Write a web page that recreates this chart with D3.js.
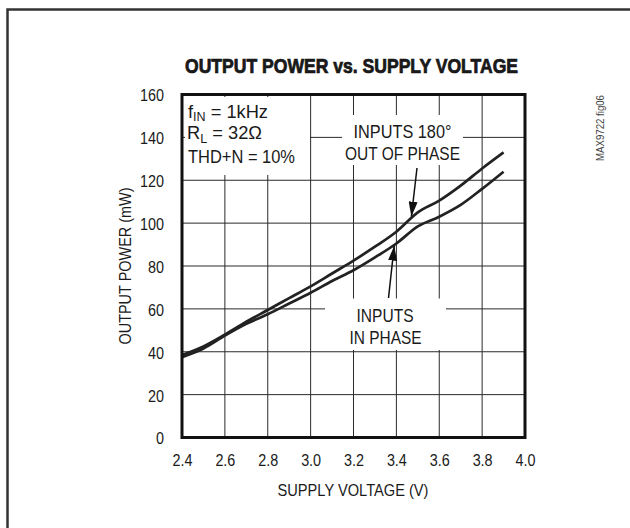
<!DOCTYPE html>
<html>
<head>
<meta charset="utf-8">
<script src="https://cdn.jsdelivr.net/npm/d3@7"></script>
<style>
  html, body { margin: 0; padding: 0; background: #fff; }
  svg { display: block; }
  text { font-family: "Liberation Sans", Arial, sans-serif; fill: #1a1a1a; }
</style>
</head>
<body>
<svg id="chart" width="630" height="528"></svg>
<script>
// Supply voltage (V) at which output power was measured
const voltage = [2.4, 2.5, 2.6, 2.7, 2.8, 2.9, 3.0, 3.1, 3.2, 3.3, 3.4, 3.5, 3.6, 3.7, 3.8, 3.9];
// Output power (mW), inputs driven 180° out of phase
const powerOutOfPhase = [38.5, 42.5, 48, 54, 59.5, 65, 70.5, 76.5, 82.5, 89, 96, 105, 110.5, 117.5, 125.5, 133];
// Output power (mW), inputs driven in phase
const powerInPhase = [37.5, 41.5, 47.5, 53, 57.5, 62.5, 67.5, 73, 78, 84, 90.5, 98.5, 103, 108.5, 116, 124];

const xTicks = [2.4, 2.6, 2.8, 3.0, 3.2, 3.4, 3.6, 3.8, 4.0];
const yTicks = [0, 20, 40, 60, 80, 100, 120, 140, 160];

const svg = d3.select("#chart");

// condensed-looking text: tall glyphs squeezed to a fixed run length
function label(parent, x, y, size, width, content, anchor = "middle") {
  return parent.append("text")
    .attr("x", x).attr("y", y).attr("font-size", size)
    .attr("text-anchor", anchor)
    .attr("textLength", width).attr("lengthAdjust", "spacingAndGlyphs")
    .text(content);
}

// outer frame
svg.append("rect")
  .attr("x", 7.5).attr("y", 9.5).attr("width", 640).attr("height", 540)
  .attr("fill", "none").attr("stroke", "#333").attr("stroke-width", 2.5);

const x = d3.scaleLinear().domain([2.4, 4.0]).range([182, 525]);
const y = d3.scaleLinear().domain([0, 160]).range([437.5, 94.5]);

// grid
const grid = svg.append("g").attr("stroke", "#2a2a2a").attr("stroke-width", 1);
grid.selectAll("line.v").data(xTicks.slice(1, -1)).join("line")
  .attr("x1", d => x(d)).attr("x2", d => x(d))
  .attr("y1", y(160)).attr("y2", y(0));
grid.selectAll("line.h").data(yTicks.slice(1, -1)).join("line")
  .attr("x1", x(2.4)).attr("x2", x(4.0))
  .attr("y1", d => y(d)).attr("y2", d => y(d));

// white panels behind the annotations
const panels = [
  [185, 97, 125, 78],
  [342, 115, 121, 50],
  [325, 298.5, 121, 51.5]
];
svg.append("g").selectAll("rect").data(panels).join("rect")
  .attr("x", d => d[0]).attr("y", d => d[1])
  .attr("width", d => d[2]).attr("height", d => d[3])
  .attr("fill", "#fff");

// curves
const line = d3.line().curve(d3.curveMonotoneX)
  .x((d, i) => x(voltage[i])).y(d => y(d));
[powerOutOfPhase, powerInPhase].forEach(series => {
  svg.append("path").attr("d", line(series))
    .attr("fill", "none").attr("stroke", "#222").attr("stroke-width", 2.7)
    .attr("stroke-linejoin", "round");
});

// plot border
svg.append("rect")
  .attr("x", x(2.4)).attr("y", y(160))
  .attr("width", x(4.0) - x(2.4)).attr("height", y(0) - y(160))
  .attr("fill", "none").attr("stroke", "#111").attr("stroke-width", 3);

// axes tick labels (digits ~8px wide, point ~4px)
const tickWidth = s => s.replace(".", "").length * 8 + (s.includes(".") ? 4 : 0);

const xAxis = d3.axisBottom(x).tickValues(xTicks).tickFormat(d3.format(".1f")).tickSize(0).tickPadding(0);
const gx = svg.append("g").attr("transform", "translate(0,455)").call(xAxis);
gx.select(".domain").remove();
gx.selectAll("text").attr("font-size", 16).attr("dy", "0.71em")
  .style("font-family", "'Liberation Sans', sans-serif").attr("fill", "#1a1a1a")
  .attr("lengthAdjust", "spacingAndGlyphs")
  .attr("textLength", function () { return tickWidth(this.textContent); });

const yAxis = d3.axisLeft(y).tickValues(yTicks).tickSize(0).tickPadding(0);
const gy = svg.append("g").attr("transform", "translate(164,0)").call(yAxis);
gy.select(".domain").remove();
gy.selectAll("text").attr("font-size", 16).attr("dy", "0.40em")
  .style("font-family", "'Liberation Sans', sans-serif").attr("fill", "#1a1a1a")
  .attr("lengthAdjust", "spacingAndGlyphs")
  .attr("textLength", function () { return tickWidth(this.textContent); });

// axis titles
label(svg, 353, 496, 16.5, 151, "SUPPLY VOLTAGE (V)");
label(svg.append("g").attr("transform", "translate(131,266) rotate(-90)"), 0, 0, 16.5, 157, "OUTPUT POWER (mW)");

// title
label(svg, 351.5, 73, 19.5, 333, "OUTPUT POWER vs. SUPPLY VOLTAGE")
  .attr("font-weight", "bold").attr("stroke", "#111").attr("stroke-width", 0.7);

// conditions block
const cond = svg.append("g").attr("font-size", 17.5);
const t1 = label(cond, 188, 117.5, 17.5, 80, "", "start");
t1.append("tspan").text("f");
t1.append("tspan").attr("font-size", 12).attr("dy", 3.5).text("IN");
t1.append("tspan").attr("dy", -3.5).text(" = 1kHz");
const t2 = label(cond, 187, 139, 17.5, 75, "", "start");
t2.append("tspan").text("R");
t2.append("tspan").attr("font-size", 12).attr("dy", 3.5).text("L");
t2.append("tspan").attr("dy", -3.5).text(" = 32Ω");
label(cond, 188, 162.5, 17.5, 107, "THD+N = 10%", "start");

// annotations
label(svg, 402.5, 137.5, 18.5, 98, "INPUTS 180°");
label(svg, 402.5, 160, 18.5, 115, "OUT OF PHASE");
label(svg, 385, 321.5, 18.5, 57, "INPUTS");
label(svg, 385.5, 343.5, 18.5, 72, "IN PHASE");

// arrows pointing at each curve
svg.append("defs").append("marker").attr("id", "arrowhead")
  .attr("viewBox", "0 0 15 9").attr("refX", 15).attr("refY", 4.5)
  .attr("markerWidth", 15).attr("markerHeight", 9).attr("markerUnits", "userSpaceOnUse")
  .attr("orient", "auto")
  .append("path").attr("d", "M0,0 L15,4.5 L0,9 Z").attr("fill", "#111");
svg.append("line")
  .attr("x1", 417).attr("y1", 168).attr("x2", x(3.47)).attr("y2", y(103))
  .attr("stroke", "#111").attr("stroke-width", 1.5).attr("marker-end", "url(#arrowhead)");
svg.append("line")
  .attr("x1", 388.5).attr("y1", 298).attr("x2", x(3.39)).attr("y2", y(89.5))
  .attr("stroke", "#111").attr("stroke-width", 1.5).attr("marker-end", "url(#arrowhead)");

// figure id
label(svg.append("g").attr("transform", "translate(604,128) rotate(-90)"), 0, 0, 10.5, 66, "MAX9722 fig06")
  .style("fill", "#444");
</script>
</body>
</html>
